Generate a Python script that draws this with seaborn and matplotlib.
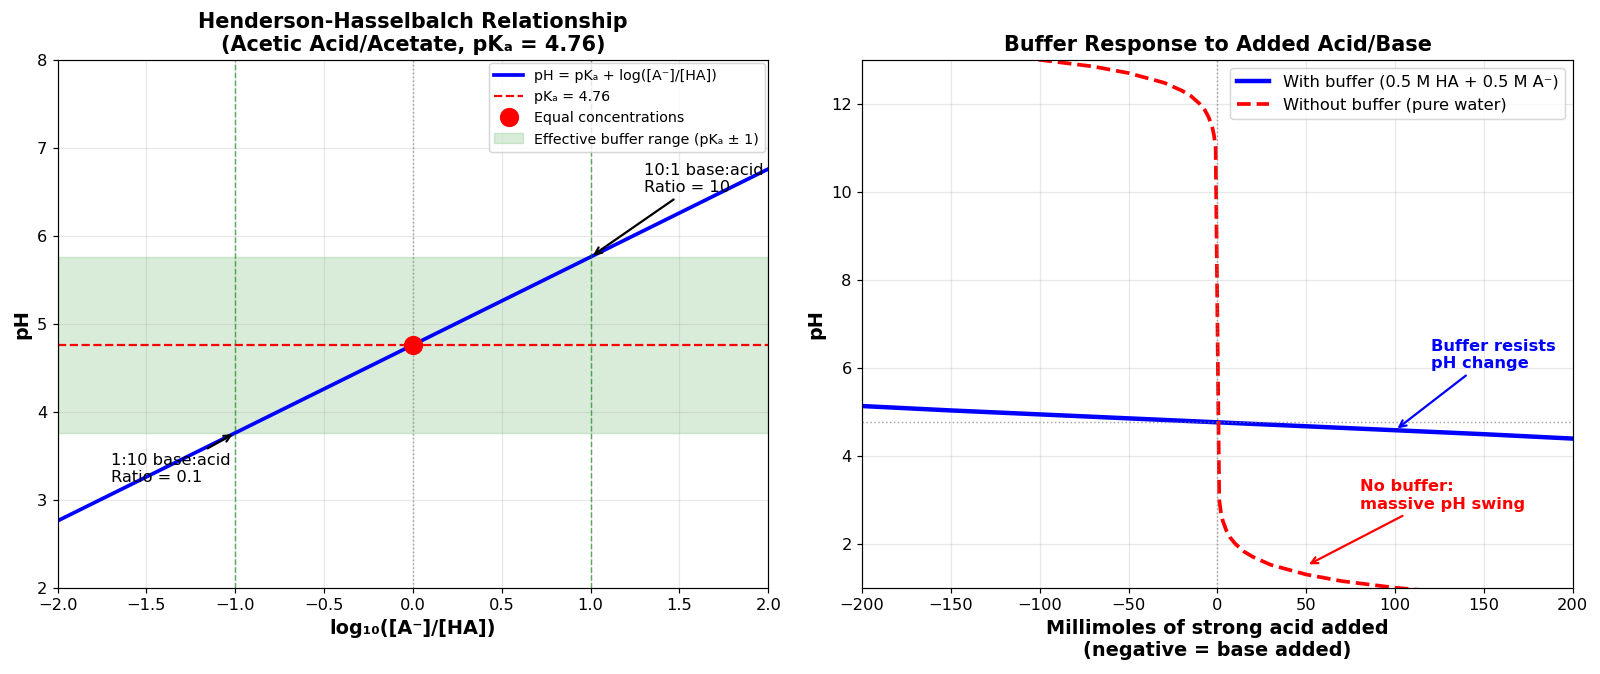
import numpy as np
import pandas as pd
import seaborn as sns
import matplotlib.pyplot as plt

pka = 4.76

# Henderson-Hasselbalch line (log ratio -> pH)
hh_log_ratio = [-2.0, -1.0, 0.0, 1.0, 2.0]
hh_ph = [2.76, 3.76, 4.76, 5.76, 6.76]

# buffer response
acid_added = [-200, -150, -100, -50, 0, 50, 100, 150, 200]
ph_buffer = [5.13, 5.03, 4.94, 4.85, 4.76, 4.67, 4.58, 4.49, 4.39]

# pure water response
water_added = [-200, -150, -100, -70, -50, -30, -20, -15, -10, -7, -5, -3, -2, -1,
               1, 2, 3, 5, 7, 10, 15, 20, 30, 50, 70, 100, 150, 200]
ph_water = [13.3, 13.18, 13.0, 12.85, 12.7, 12.48, 12.3, 12.18, 12.0, 11.85, 11.7,
            11.48, 11.3, 11.0, 3.0, 2.7, 2.52, 2.3, 2.15, 2.0, 1.82, 1.7, 1.52,
            1.3, 1.15, 1.0, 0.82, 0.7]

hh_df = pd.DataFrame({"x": hh_log_ratio, "pH": hh_ph})
buf_df = pd.DataFrame({"x": acid_added, "pH": ph_buffer})
water_df = pd.DataFrame({"x": water_added, "pH": ph_water})

fig, (ax1, ax2) = plt.subplots(1, 2, figsize=(15, 6.32), dpi=1600 / 15)

# left panel
ax1.axhspan(pka - 1, pka + 1, color="green", alpha=0.15,
            label="Effective buffer range (pKₐ ± 1)")
sns.lineplot(data=hh_df, x="x", y="pH", ax=ax1, color="blue", linewidth=2.5,
             label="pH = pKₐ + log([A⁻]/[HA])")
ax1.axhline(pka, color="red", linestyle="--", linewidth=1.5, label="pKₐ = 4.76")
ax1.plot(0, pka, "o", color="red", markersize=12, label="Equal concentrations",
         zorder=5)
ax1.axvline(0, color="gray", linestyle=":", linewidth=1, alpha=0.7)
ax1.axvline(-1, color="green", linestyle="--", linewidth=1, alpha=0.6)
ax1.axvline(1, color="green", linestyle="--", linewidth=1, alpha=0.6)
ax1.annotate("10:1 base:acid\nRatio = 10", xy=(1, pka + 1), xytext=(1.3, 6.5),
             fontsize=11, arrowprops=dict(arrowstyle="->", color="black", lw=1.5))
ax1.annotate("1:10 base:acid\nRatio = 0.1", xy=(-1, pka - 1), xytext=(-1.7, 3.2),
             fontsize=11, arrowprops=dict(arrowstyle="->", color="black", lw=1.5))
ax1.set_xlim(-2, 2)
ax1.set_ylim(2, 8)
ax1.set_xlabel("log₁₀([A⁻]/[HA])", fontsize=13, fontweight="bold")
ax1.set_ylabel("pH", fontsize=13, fontweight="bold")
ax1.set_title("Henderson-Hasselbalch Relationship\n(Acetic Acid/Acetate, pKₐ = 4.76)",
              fontsize=14, fontweight="bold")
ax1.grid(True, alpha=0.3)
h, l = ax1.get_legend_handles_labels()
order = [1, 2, 3, 0]
ax1.legend([h[i] for i in order], [l[i] for i in order], loc="upper right",
           fontsize=9.6, borderaxespad=0.25)
ax1.tick_params(labelsize=11)

# right panel
sns.lineplot(data=buf_df, x="x", y="pH", ax=ax2, color="blue", linewidth=3,
             label="With buffer (0.5 M HA + 0.5 M A⁻)")
sns.lineplot(data=water_df, x="x", y="pH", ax=ax2, color="red", linewidth=2.5,
             linestyle="--", label="Without buffer (pure water)")
ax2.axhline(pka, color="gray", linestyle=":", linewidth=1, alpha=0.7)
ax2.axvline(0, color="gray", linestyle=":", linewidth=1, alpha=0.7)
ax2.annotate("Buffer resists\npH change", xy=(100, 4.58), xytext=(120, 6.0),
             fontsize=11, fontweight="bold", color="blue",
             arrowprops=dict(arrowstyle="->", color="blue", lw=1.5))
ax2.annotate("No buffer:\nmassive pH swing", xy=(50, 1.5), xytext=(80, 2.8),
             fontsize=11, fontweight="bold", color="red",
             arrowprops=dict(arrowstyle="->", color="red", lw=1.5))
ax2.set_xlim(-200, 200)
ax2.set_ylim(1, 13)
ax2.set_xlabel("Millimoles of strong acid added\n(negative = base added)",
               fontsize=13, fontweight="bold")
ax2.set_ylabel("pH", fontsize=13, fontweight="bold")
ax2.set_title("Buffer Response to Added Acid/Base", fontsize=14, fontweight="bold")
ax2.grid(True, alpha=0.3)
ax2.legend(loc="upper right", fontsize=11)
ax2.tick_params(labelsize=11)

fig.subplots_adjust(left=0.036, right=0.983, top=0.911, bottom=0.128, wspace=0.132)
plt.savefig("out.png", dpi=1600 / 15)
